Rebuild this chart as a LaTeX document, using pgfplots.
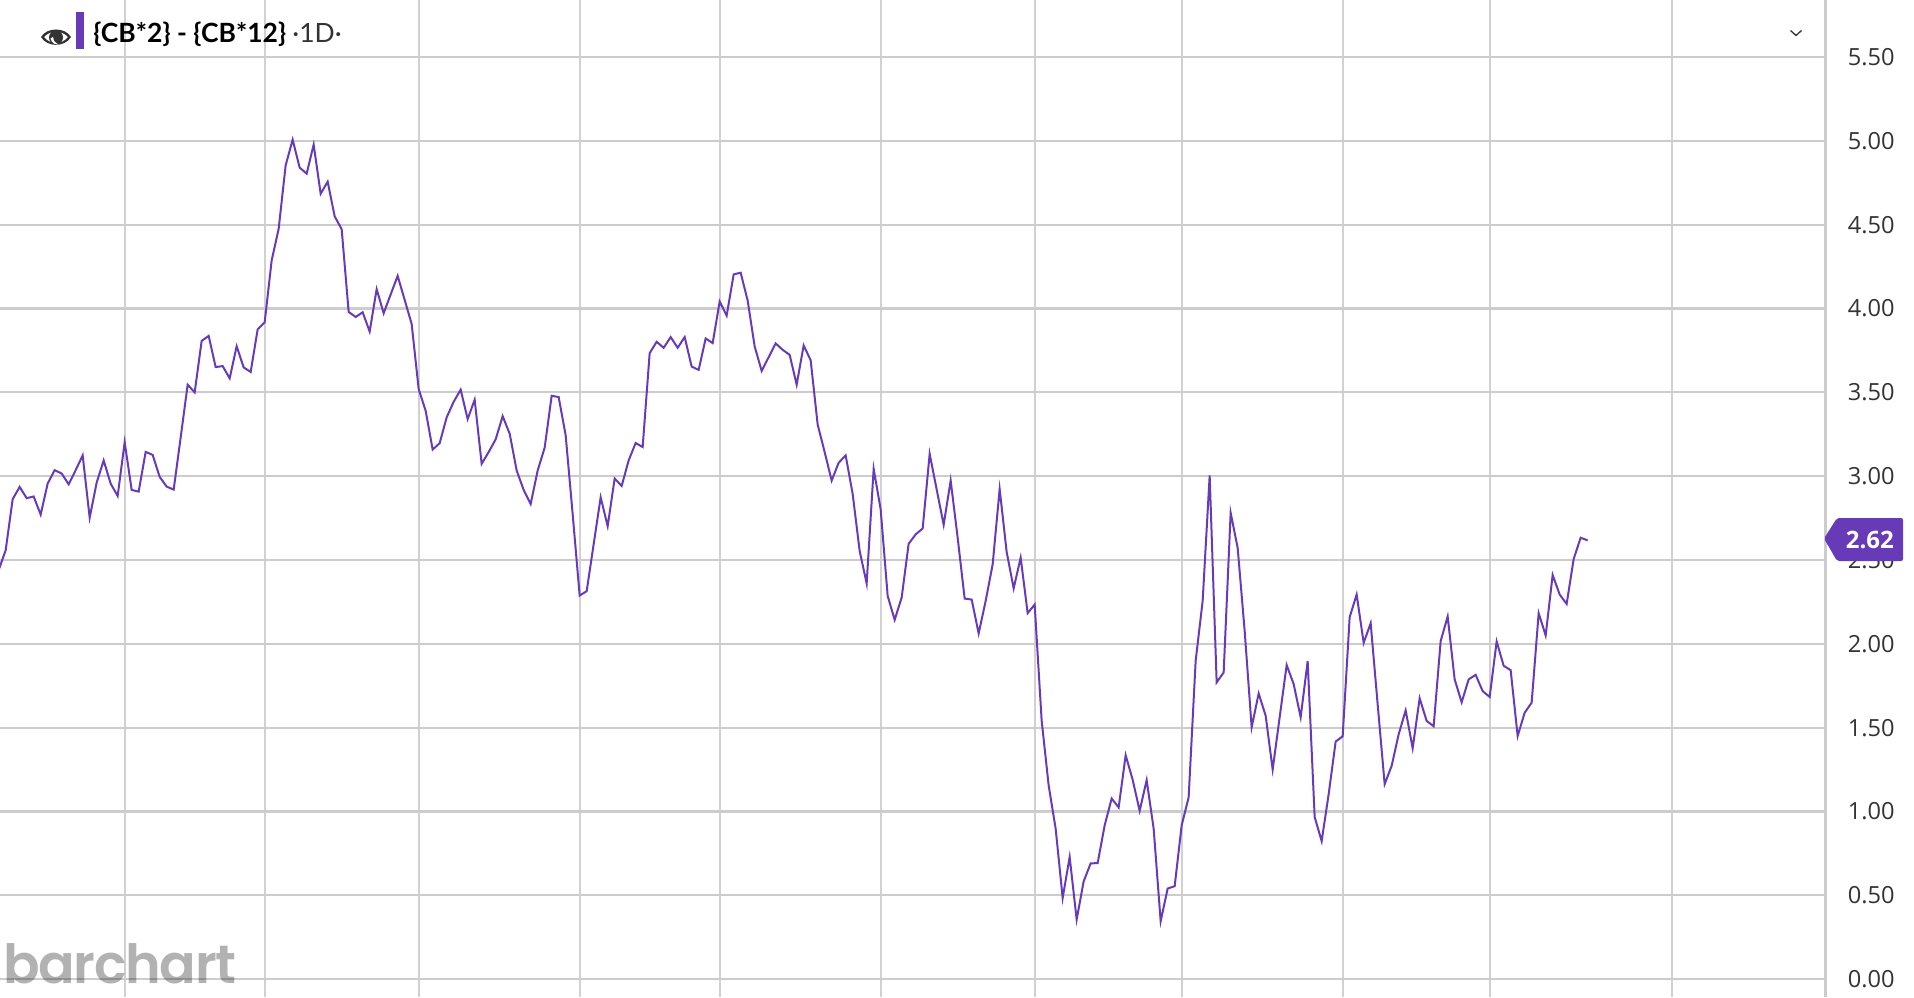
\documentclass[border=0pt]{standalone}
\usepackage{pgfplots}
\pgfplotsset{compat=1.18}
\usepackage{fontspec}
\setmainfont{Open Sans}
\newfontfamily\latofont{Lato}
\newfontfamily\wmfont{Poppins}[UprightFont=* SemiBold,BoldFont=* SemiBold,LetterSpace=-2.5]
\definecolor{lineP}{HTML}{673AB7}
\definecolor{gridc}{HTML}{CCCCCC}
\definecolor{txt}{HTML}{333333}
\begin{document}
\begin{tikzpicture}
\path[use as bounding box] (0,0) rectangle (957pt,498.5pt);
\begin{axis}[
  at={(0,0)},anchor=south west,
  scale only axis,width=912.75pt,height=498.5pt,
  xmin=0.19,xmax=260.98,ymin=-0.107,ymax=5.841,
  axis x line=bottom,axis y line=right,
  x axis line style={-,draw=none},
  y axis line style={-,draw=gridc,line width=1.1pt},
  xtick={18,38,60,83,103,126,148,169,192,213,239},
  xticklabels={},
  ytick={0,0.5,1,1.5,2,2.5,3,3.5,4,4.5,5,5.5},
  ymajorgrids,xmajorgrids,
  y grid style={gridc,line width=1.1pt},
  x grid style={gridc!90!white,line width=1.1pt},
  major tick length=0pt,
  /pgf/number format/assume math mode=true,
  yticklabel={\pgfmathprintnumber[fixed,fixed zerofill,precision=2]{\tick}},
  yticklabel style={font=\fontsize{11.8}{13}\selectfont,text=txt,anchor=west,inner sep=0pt,xshift=11pt},
  clip=true,
]
\addplot[lineP,line width=1pt,line join=miter] table {
0 2.44
1 2.558
2 2.863
3 2.936
4 2.869
5 2.879
6 2.771
7 2.956
8 3.036
9 3.016
10 2.952
11 3.036
12 3.124
13 2.753
14 2.962
15 3.094
16 2.956
17 2.882
18 3.203
19 2.918
20 2.908
21 3.145
22 3.127
23 2.996
24 2.938
25 2.920
26 3.231
27 3.546
28 3.500
29 3.807
30 3.837
31 3.651
32 3.657
33 3.584
34 3.775
35 3.649
36 3.622
37 3.876
38 3.918
39 4.287
40 4.476
41 4.855
42 5.008
43 4.841
44 4.805
45 4.978
46 4.685
47 4.757
48 4.550
49 4.474
50 3.980
51 3.950
52 3.978
53 3.863
54 4.116
55 3.972
56 4.084
57 4.195
58 4.052
59 3.908
60 3.520
61 3.390
62 3.159
63 3.197
64 3.351
65 3.444
66 3.516
67 3.341
68 3.456
69 3.074
70 3.144
71 3.220
72 3.358
73 3.254
74 3.034
75 2.918
76 2.834
77 3.034
78 3.170
79 3.480
80 3.472
81 3.244
82 2.774
83 2.288
84 2.314
85 2.594
86 2.874
87 2.702
88 2.986
89 2.942
90 3.094
91 3.198
92 3.174
93 3.734
94 3.802
95 3.766
96 3.830
97 3.766
98 3.830
99 3.654
100 3.634
101 3.822
102 3.794
103 4.042
104 3.958
105 4.204
106 4.214
107 4.048
108 3.774
109 3.628
110 3.710
111 3.792
112 3.754
113 3.724
114 3.546
115 3.780
116 3.692
117 3.308
118 3.144
119 2.974
120 3.080
121 3.124
122 2.894
123 2.554
124 2.360
125 3.044
126 2.802
127 2.286
128 2.143
129 2.276
130 2.597
131 2.653
132 2.688
133 3.133
134 2.921
135 2.710
136 2.974
137 2.633
138 2.270
139 2.264
140 2.062
141 2.256
142 2.474
143 2.923
144 2.548
145 2.331
146 2.514
147 2.183
148 2.234
149 1.542
150 1.155
151 0.897
152 0.484
153 0.728
154 0.355
155 0.583
156 0.690
157 0.692
158 0.917
159 1.077
160 1.024
161 1.335
162 1.189
163 1.004
164 1.187
165 0.897
166 0.345
167 0.540
168 0.554
169 0.917
170 1.085
171 1.899
172 2.256
173 3.004
174 1.770
175 1.829
176 2.782
177 2.573
178 2.077
179 1.502
180 1.704
181 1.571
182 1.250
183 1.562
184 1.873
185 1.760
186 1.562
187 1.897
188 0.967
189 0.823
190 1.103
191 1.417
192 1.448
193 2.159
194 2.294
195 2.006
196 2.123
197 1.639
198 1.163
199 1.272
200 1.460
201 1.603
202 1.377
203 1.675
204 1.540
205 1.508
206 2.016
207 2.163
208 1.788
209 1.651
210 1.788
211 1.815
212 1.718
213 1.683
214 2.014
215 1.869
216 1.843
217 1.450
218 1.589
219 1.649
220 2.183
221 2.050
222 2.411
223 2.294
224 2.238
225 2.506
226 2.633
227 2.617
};
\end{axis}
\begin{scope}[x=0.5pt,y=-0.5pt,shift={(0,498.5pt)}]
  % watermark
  \node[anchor=base west,inner sep=0pt,text=black,text opacity=0.3,font=\wmfont\fontsize{27}{30}\selectfont] at (3,983) {barchart};
  % eye icon
  \fill[txt,even odd rule] (41,37) .. controls (47,27) and (65,27) .. (71,37) .. controls (65,47.5) and (47,47.5) .. (41,37) -- cycle
     (44,37) .. controls (50,30) and (62,30) .. (68,37) .. controls (62,45) and (50,45) .. (44,37) -- cycle;
  \fill[txt] (56,37.5) circle (7);
  \fill[white] (50.5,38.5) .. controls (52,43.5) and (55,44.5) .. (58.5,44.5) .. controls (54,42) and (53,40) .. (53,37) -- cycle;
  % colour bar
  \fill[lineP] (76,12) rectangle (84,49);
  % title
  \node[anchor=base west,inner sep=0pt,text=black,font=\latofont\bfseries\fontsize{13.25}{15}\selectfont] at (93,43) {\{CB*2\} - \{CB*12\}};
  \node[anchor=base west,inner sep=0pt,text=txt,font=\latofont\fontsize{13.25}{15}\selectfont] at (292,43) {·1D·};
  % chevron
  \draw[txt,line width=0.65pt] (1790.5,30.5) -- (1796,35.5) -- (1801.5,30.5);
  % last-value tag
  \fill[lineP,rounded corners=1pt] (1824,538.5) -- (1837,518) -- (1903,518) -- (1903,561) -- (1837,561) -- cycle;
  \node[anchor=base west,inner sep=0pt,text=white,font=\bfseries\fontsize{12}{13}\selectfont] at (1845.5,548) {2.62};
\end{scope}
\end{tikzpicture}
\end{document}
